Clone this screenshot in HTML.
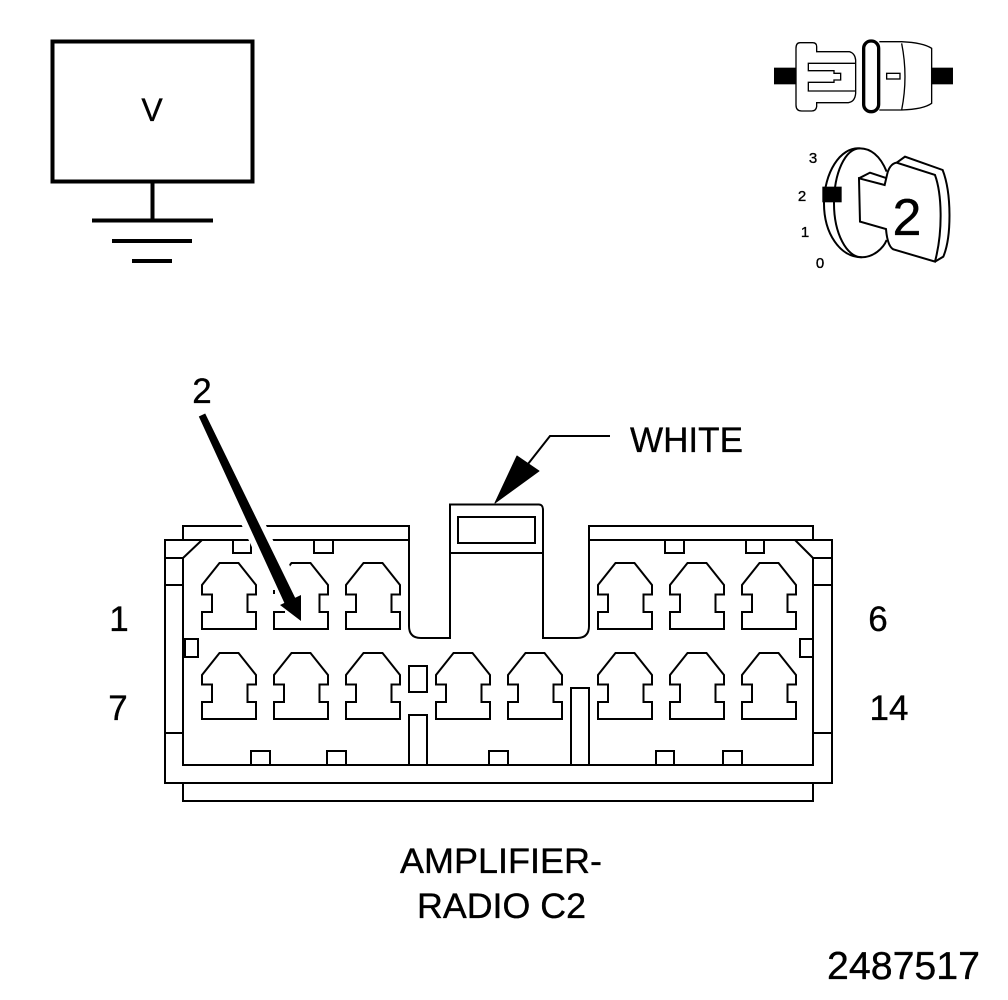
<!DOCTYPE html>
<html><head><meta charset="utf-8"><style>
html,body{margin:0;padding:0;background:#fff}
svg{display:block}
text{font-family:"Liberation Sans",sans-serif;fill:#000;stroke:#000;stroke-width:.35}
.l{fill:none;stroke:#000;stroke-width:2}
</style></head><body>
<svg width="1008" height="1000" viewBox="0 0 1008 1000" xmlns="http://www.w3.org/2000/svg">
<defs>
<path id="c" class="l" d="M18.5,1H37.5L55,23V32.5H46.5V50H55V67H1V50H11V32.5H1V23Z"/>
</defs>
<rect width="1008" height="1000" fill="#fff"/>

<!-- voltmeter -->
<rect x="52.5" y="41.5" width="200" height="140" fill="none" stroke="#000" stroke-width="4"/>
<path d="M152.5,181V220M92,220.500H213M112,241H192M132,261H172" fill="none" stroke="#000" stroke-width="4"/>
<text x="152" y="121" font-size="32" text-anchor="middle">V</text>

<!-- connector icon + key icon -->
<g transform="translate(760,30) scale(.3333)">
<g fill="none" stroke="#000" stroke-width="4">
<path d="M120,38H158Q170,38 170,50V65H268Q285,70 287,90V190Q285,215 265,218H170V230Q168,243 155,243H125Q108,243 108,225V55Q108,38 120,38Z"/>
<path d="M285,100H145V122H222V130H242V150H222V157H145V183H285"/>
<path d="M358,35H425Q490,38 515,55V220Q490,238 425,240H358M425,40Q445,140 425,240"/>
<rect x="380" y="130" width="40" height="17"/>
<rect x="311" y="33" width="45" height="212" rx="22" stroke-width="10"/>
<path stroke-width="6" d="M380,425C360,375 330,355 300,355C255,355 222,430 222,520C222,610 260,682 305,682C340,682 370,655 380,630"/>
<path stroke-width="6" d="M300,355C240,350 192,430 192,520C192,610 240,682 305,682"/>
<path stroke-width="6" d="M297,445L374,465L381,435C385,415 395,400 410,398L525,435C545,490 550,600 525,695L400,658C385,650 380,620 378,597L300,575Z"/>
<path stroke-width="6" d="M297,445L330,428L381,445M410,398L435,380L548,420C575,490 575,620 550,680L525,695"/>
</g>
<rect x="42" y="113" width="66" height="50"/>
<rect x="513" y="113" width="66" height="50"/>
<rect x="187" y="470" width="58" height="47"/>
</g>
<text x="907" y="235" font-size="52" text-anchor="middle">2</text>
<text x="813" y="163" font-size="15" text-anchor="middle">3</text>
<text x="802" y="201" font-size="15" text-anchor="middle">2</text>
<text x="805" y="237" font-size="15" text-anchor="middle">1</text>
<text x="820" y="268" font-size="15" text-anchor="middle">0</text>

<!-- housing -->
<g fill="none" stroke="#000" stroke-width="2">
<path d="M183,540V526H409V540M183,540H409M409,526V626Q409,638 421,638H450V504.500H538Q543,504 543,510V638H577Q589,638 589,626V526H813V540M589,540H832V783H165V540H183"/>
<path d="M183,783V801H813V783M183,558V765H813V558M202,540L183,558M795,540L813,558"/>
<path d="M165,558H183M165,585H183M165,733H183M813,558H832M813,585H832M813,733H832M450,553H543"/>
<rect x="458" y="517" width="77" height="26"/>
<rect x="233" y="540" width="18" height="13"/>
<rect x="314" y="540" width="19" height="13"/>
<rect x="665" y="540" width="19" height="13"/>
<rect x="746" y="540" width="18" height="13"/>
<rect x="251" y="751" width="19" height="14"/>
<rect x="327" y="751" width="19" height="14"/>
<rect x="489" y="751" width="19" height="14"/>
<rect x="656" y="751" width="18" height="14"/>
<rect x="723" y="751" width="19" height="14"/>
<rect x="185" y="639" width="13" height="18"/>
<rect x="800" y="639" width="13" height="18"/>
<rect x="409" y="666" width="18" height="26"/>
<rect x="409" y="715" width="18" height="50"/>
<rect x="571" y="688" width="18" height="77"/>
</g>
<g>
<use href="#c" x="201" y="562"/><use href="#c" x="273" y="562"/><use href="#c" x="345" y="562"/>
<use href="#c" x="597" y="562"/><use href="#c" x="669" y="562"/><use href="#c" x="741" y="562"/>
<use href="#c" x="201" y="652"/><use href="#c" x="273" y="652"/><use href="#c" x="345" y="652"/>
<use href="#c" x="435" y="652"/><use href="#c" x="507" y="652"/>
<use href="#c" x="597" y="652"/><use href="#c" x="669" y="652"/><use href="#c" x="741" y="652"/>
</g>

<!-- arrow 2 -->
<path d="M203,416L285,592" stroke="#fff" stroke-width="22" fill="none"/>
<path d="M289,564L270,588V611H292L300,590Z" fill="#fff"/>
<rect x="273" y="590" width="2" height="4"/>
<path d="M205.200,413.500L198.800,416.500L285.600,605.600L296.400,600.400Z"/>
<path d="M301,621L280,605L301,595Z"/>
<text x="202" y="403" font-size="35" text-anchor="middle">2</text>

<!-- WHITE arrow -->
<path d="M528,464L550,436H610" fill="none" stroke="#000" stroke-width="2"/>
<path d="M495,503L517,456L539,471Z" stroke="#000" stroke-width="1" stroke-linejoin="round"/>
<text x="630" y="452" font-size="35" textLength="113" lengthAdjust="spacingAndGlyphs">WHITE</text>

<!-- labels -->
<text x="119" y="631" font-size="35" text-anchor="middle">1</text>
<text x="118" y="720" font-size="35" text-anchor="middle">7</text>
<text x="878" y="631" font-size="35" text-anchor="middle">6</text>
<text x="889" y="720" font-size="35" text-anchor="middle">14</text>
<text x="400" y="873" font-size="35" textLength="202" lengthAdjust="spacingAndGlyphs">AMPLIFIER-</text>
<text x="417" y="918" font-size="35" textLength="169" lengthAdjust="spacingAndGlyphs">RADIO C2</text>
<text x="827" y="979" font-size="39" textLength="153" lengthAdjust="spacingAndGlyphs">2487517</text>
</svg>
</body></html>
